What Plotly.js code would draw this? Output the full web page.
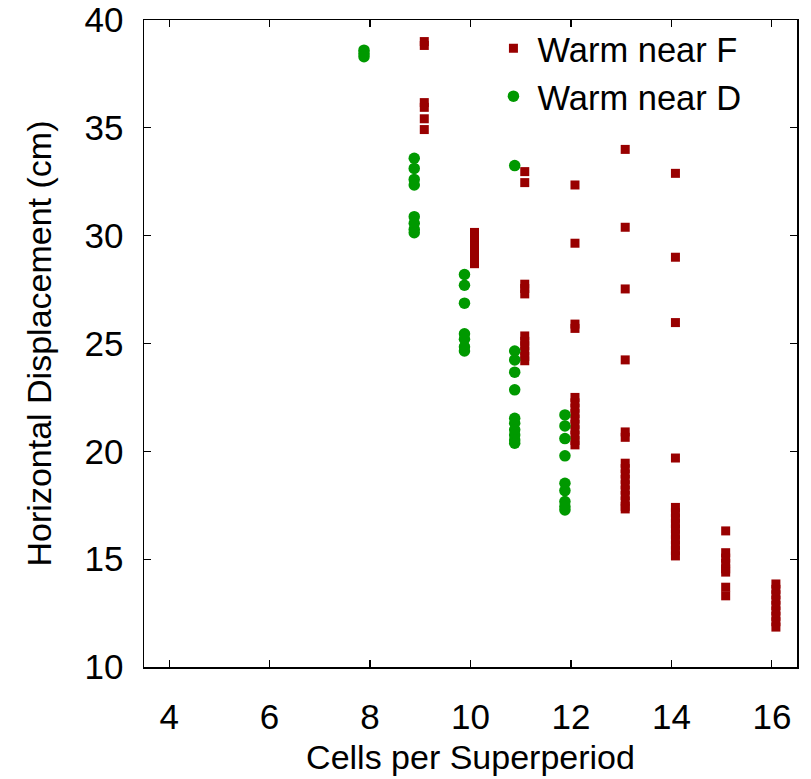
<!DOCTYPE html>
<html>
<head>
<meta charset="utf-8">
<script src="https://cdn.plot.ly/plotly-3.0.1.min.js"></script>
<style>html,body{margin:0;padding:0;background:#fff;}#chart{width:811px;height:779px;}</style>
</head>
<body>
<div id="chart"></div>
<script>
// Warm near F (red squares): column x positions and y values per column
const fCols = [9.08, 10.08, 11.08, 12.08, 13.08, 14.08, 15.08, 16.08];
const fVals = [
  [39.0, 38.82, 36.17, 35.95, 35.42, 34.92],
  [30.15, 29.95, 29.75, 29.5, 29.25, 28.95, 28.7],
  [32.97, 32.46, 27.75, 27.55, 27.3, 25.35, 25.1, 24.9, 24.65, 24.4, 24.2],
  [32.35, 29.65, 25.9, 25.7, 22.5, 22.25, 22.0, 21.75, 21.5, 21.25, 21.0, 20.75, 20.5, 20.3],
  [34.0, 30.39, 27.53, 24.24, 20.9, 20.65, 19.45, 19.2, 18.95, 18.7, 18.45, 18.2, 17.95, 17.7, 17.45, 17.33],
  [32.89, 29.0, 25.97, 19.69, 17.4, 17.15, 16.9, 16.65, 16.4, 16.15, 15.9, 15.65, 15.4, 15.15],
  [16.31, 15.3, 15.05, 14.8, 14.55, 14.4, 13.7, 13.3],
  [13.85, 13.6, 13.35, 13.1, 12.85, 12.6, 12.35, 12.1, 11.85]
];
// Warm near D (green circles)
const dCols = [7.88, 8.88, 9.88, 10.88, 11.88];
const dVals = [
  [38.6, 38.45, 38.3],
  [33.59, 33.12, 32.61, 32.35, 30.88, 30.57, 30.30, 30.14],
  [28.2, 27.7, 26.87, 25.45, 25.2, 24.85, 24.65],
  [33.25, 24.65, 24.24, 23.67, 22.85, 21.53, 21.3, 21.0, 20.76, 20.53, 20.38],
  [21.69, 21.18, 20.59, 19.79, 18.52, 18.18, 17.67, 17.44, 17.28]
];
const xTicks = [4, 6, 8, 10, 12, 14, 16];
const yTicks = [10, 15, 20, 25, 30, 35, 40];

function flatten(cols, vals) {
  const x = [], y = [];
  cols.forEach((c, i) => vals[i].forEach(v => { x.push(c); y.push(v); }));
  return {x, y};
}
const F = flatten(fCols, fVals);
const D = flatten(dCols, dVals);

const FONT = '"Liberation Sans", Arial, sans-serif';
const traces = [
  {x: F.x, y: F.y, type: 'scatter', mode: 'markers', name: 'Warm near F',
   marker: {symbol: 'square', size: 9, color: '#990000', line: {width: 0}}},
  {x: D.x, y: D.y, type: 'scatter', mode: 'markers', name: 'Warm near D',
   marker: {symbol: 'circle', size: 11.5, color: '#009900', line: {width: 0}}}
];
const axisCommon = {
  showgrid: false, zeroline: false, showline: true, linecolor: '#000', linewidth: 1.5,
  mirror: 'allticks', ticks: 'inside', ticklen: 7, tickwidth: 1.2, tickcolor: '#000',
  tickfont: {family: FONT, size: 35, color: '#000'}
};
const layout = {
  width: 811, height: 779,
  margin: {l: 144, r: 14, t: 20, b: 112},
  paper_bgcolor: '#fff', plot_bgcolor: '#fff',
  font: {family: FONT, size: 35, color: '#000'},
  showlegend: true,
  legend: {x: 0.529, y: 1.001, xanchor: 'left', yanchor: 'top', bgcolor: 'rgba(0,0,0,0)',
           font: {family: FONT, size: 34.5, color: '#000'}, itemwidth: 38, tracegroupgap: 0},
  xaxis: Object.assign({}, axisCommon, {
    range: [3.5, 16.5], tickmode: 'array', tickvals: xTicks, ticktext: xTicks.map(String),
    ticklabelstandoff: 18,
    title: {text: 'Cells per Superperiod', font: {family: FONT, size: 34, color: '#000'}, standoff: 10}
  }),
  yaxis: Object.assign({}, axisCommon, {
    range: [10, 40], tickmode: 'array', tickvals: yTicks, ticktext: yTicks.map(String),
    ticklabelstandoff: 12,
    title: {text: 'Horizontal Displacement (cm)', font: {family: FONT, size: 34, color: '#000'}, standoff: 22}
  })
};
Plotly.newPlot('chart', traces, layout, {displayModeBar: false, staticPlot: true});
</script>
</body>
</html>
